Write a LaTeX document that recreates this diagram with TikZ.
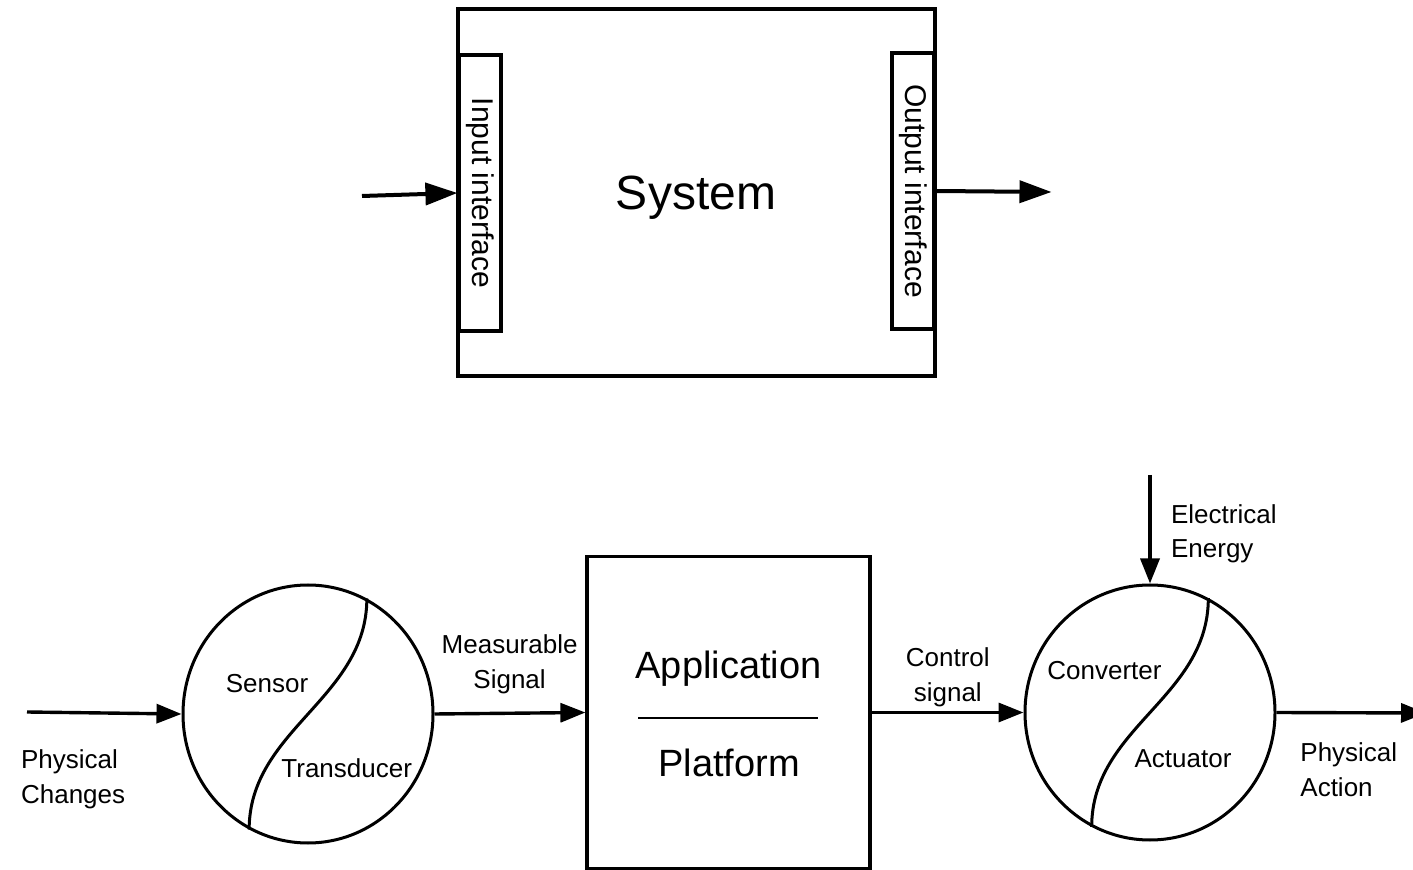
\documentclass[tikz,border=0pt]{standalone}
\usepackage{fontspec}
\setmainfont{Liberation Sans}
\usetikzlibrary{arrows.meta,shapes.geometric}

\tikzset{
  frame/.style={draw, line width=1.7pt, inner sep=0pt},
  port/.style={draw, line width=1.6pt, inner sep=0pt, minimum width=21pt},
  porttext/.style={rotate=-90, inner sep=0pt, font=\fontsize{15pt}{18pt}\selectfont},
  bigarrow/.style={line width=2pt, -{Triangle[length=16pt,width=11pt]}},
  disc/.style={draw, ellipse, line width=1.5pt, inner sep=0pt},
  block/.style={draw, line width=1.6pt, inner sep=0pt},
  arr/.style={line width=1.7pt, -{Triangle[length=12.5pt,width=9.5pt]}},
  sline/.style={line width=1.5pt},
  lbl/.style={inner sep=0pt, font=\fontsize{13pt}{17.25pt}\selectfont},
  title/.style={inner sep=0pt, font=\fontsize{19pt}{23pt}\selectfont},
}

\begin{document}
\begin{tikzpicture}[x=0.5pt,y=-0.5pt]
\useasboundingbox (0,0) rectangle (1413,870);
\clip (0,0) rectangle (1413,870);

% ---- system with its two interfaces ----
\node[frame, minimum width=238.5pt, minimum height=183.5pt] (sys) at (696.5,192.5) {};
\node[inner sep=0pt, font=\fontsize{24pt}{28pt}\selectfont, anchor=base] (systxt) at (696,210) {System};
\node[port, minimum height=138pt] (inif) at (480,193) {};
\node[port, minimum height=138pt] (outif) at (913,191) {};
\node[porttext] (iniftxt) at (inif.center) {Input interface};
\node[porttext] (outiftxt) at (outif.center) {Output interface};

\coordinate (srcTop) at (362,196);
\coordinate (dstTop) at (1051.5,192);
\draw[bigarrow] (srcTop) -- (inif.west);
\draw[bigarrow] (outif.east) -- (dstTop);

% ---- sensor, platform and actuator chain ----
\node[disc, minimum width=125pt, minimum height=129pt] (sens) at (308,714) {};
\node[block, minimum width=141.5pt, minimum height=156pt] (app) at (728.5,712.5) {};
\node[disc, minimum width=125pt, minimum height=127.5pt] (act) at (1150,712.5) {};

\draw[sline] (sens.63.5) .. controls +(0,100) and +(0,-100) .. (sens.243.5);
\draw[sline] (act.63.5) .. controls +(0,100) and +(0,-100) .. (act.243.5);
\draw[line width=1pt] (638,718) -- (818,718);

\node[lbl, anchor=base] (senstxt) at (267,692.7) {Sensor};
\node[lbl, anchor=base] (transtxt) at (346.7,777.3) {Transducer};
\node[lbl, anchor=base] (convtxt) at (1104.5,680) {Converter};
\node[lbl, anchor=base] (acttxt) at (1183,767.7) {Actuator};
\node[title, anchor=base] (apptxt) at (728.5,679) {Application};
\node[title, anchor=base] (plattxt) at (729,776.7) {Platform};

\coordinate (pcIn) at (27,712);
\coordinate (paOut) at (1426,713);
\coordinate (eeIn) at (1150,475);
\draw[arr] (pcIn) -- (sens.west);
\draw[arr] (sens.east) -- (app.west);
\draw[arr] (app.east) -- (act.west);
\draw[arr] (act.east) -- (paOut);
\draw[arr] (eeIn) -- (act.north);

\node[lbl, align=left, anchor=west] (pctxt) at (20.7,779.5) {Physical\\Changes};
\node[lbl, align=center] (mstxt) at (509.6,664.4) {Measurable\\Signal};
\node[lbl, align=center] (cstxt) at (947.8,677.5) {Control\\signal};
\node[lbl, align=left, anchor=west] (eetxt) at (1170.7,534) {Electrical\\Energy};
\node[lbl, align=left, anchor=west] (patxt) at (1300,769.7) {Physical\\Action};
\end{tikzpicture}
\end{document}
